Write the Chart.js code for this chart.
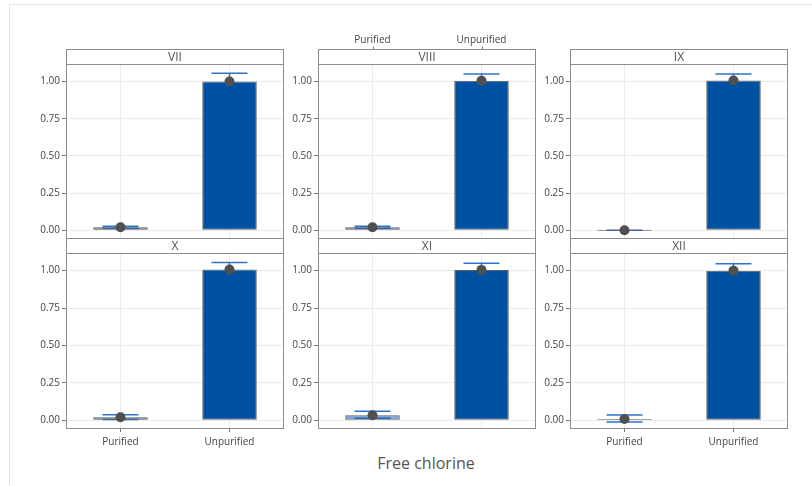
<!DOCTYPE html>
<html>
<head>
<meta charset="utf-8">
<script src="https://cdn.jsdelivr.net/npm/chart.js@4.4.0/dist/chart.umd.min.js"></script>
<style>
  html, body { margin: 0; padding: 0; background: #fff; }
  body { width: 812px; height: 486px; position: relative; overflow: hidden; font-family: "Open Sans", sans-serif; }
  .frame { position: absolute; left: 9px; top: 4px; width: 820px; height: 500px; border-top: 1px solid #e4e4e4; border-left: 1px solid #e4e4e4; }
  canvas { position: absolute; }
  #xtitle { position: absolute; left: 0; width: 852px; top: 452px; text-align: center; font-size: 16px; color: #555; }
</style>
</head>
<body>
<div class="frame"></div>
<div id="xtitle">Free chlorine</div>

<script>
  // Data
  const sites = ["VII", "VIII", "IX", "X", "XI", "XII"];
  const categories = ["Purified", "Unpurified"];
  const yTicks = [0, 0.25, 0.5, 0.75, 1];

  const purifiedMean = [0.02, 0.02, 0.0, 0.02, 0.033, 0.008];
  const purifiedLow = [0.013, 0.013, 0.0, 0.005, 0.013, -0.012];
  const purifiedHigh = [0.026, 0.026, 0.0, 0.036, 0.06, 0.034];

  const unpurifiedMean = [1.0, 1.005, 1.007, 1.007, 1.005, 1.0];
  const unpurifiedLow = [0.944, 0.96, 0.964, 0.96, 0.96, 0.954];
  const unpurifiedHigh = [1.056, 1.05, 1.05, 1.054, 1.05, 1.046];

  // Layout
  const colLeft = [66, 318, 570];
  const PLOT_W = 218;
  const AXIS_W = 56;
  const STRIP_H = 15;
  const Y_MIN = -0.059;
  const Y_MAX = 1.118;
  const FONT = "'Open Sans', sans-serif";

  const panelDeco = {
    id: "panelDeco",
    // error bars go under the bars, like the original
    beforeDatasetDraw(chart, args, opts) {
      if (args.index !== 0) return;
      const ctx = chart.ctx;
      const x = chart.scales.x;
      const y = chart.scales.y;
      const capHalf = (x.getPixelForValue(1) - x.getPixelForValue(0)) * 0.165;
      ctx.save();
      ctx.strokeStyle = "#2f72cc";
      ctx.lineWidth = 1.5;
      opts.low.forEach((lo, j) => {
        const px = x.getPixelForValue(j);
        const yl = y.getPixelForValue(lo);
        const yh = y.getPixelForValue(opts.high[j]);
        ctx.beginPath();
        ctx.moveTo(px, yl);
        ctx.lineTo(px, yh);
        ctx.moveTo(px - capHalf, yh);
        ctx.lineTo(px + capHalf, yh);
        ctx.moveTo(px - capHalf, yl);
        ctx.lineTo(px + capHalf, yl);
        ctx.stroke();
      });
      ctx.restore();
    },
    afterDraw(chart, args, opts) {
      const { ctx, chartArea: a } = chart;
      const l = Math.round(a.left) + 0.5;
      const r = Math.round(a.right) - 0.5;
      const t = Math.round(a.top) + 0.5;
      const b = Math.round(a.bottom) - 0.5;
      ctx.save();
      ctx.strokeStyle = "#8c8c8c";
      ctx.lineWidth = 1;
      ctx.strokeRect(l, t, r - l, b - t);
      // strip
      ctx.fillStyle = "#fff";
      ctx.fillRect(l, t - STRIP_H, r - l, STRIP_H);
      ctx.strokeRect(l, t - STRIP_H, r - l, STRIP_H);
      ctx.fillStyle = "#555";
      ctx.font = "12px " + FONT;
      ctx.textAlign = "center";
      ctx.textBaseline = "middle";
      ctx.fillText(opts.site, (l + r) / 2, t - STRIP_H / 2 + 1);
      if (opts.topTicks) {
        ctx.strokeStyle = "#777";
        categories.forEach((c, j) => {
          const px = Math.round(chart.scales.x.getPixelForValue(j)) + 0.5;
          ctx.beginPath();
          ctx.moveTo(px, t - STRIP_H - 3);
          ctx.lineTo(px, t - STRIP_H);
          ctx.stroke();
        });
      }
      ctx.restore();
    },
  };

  sites.forEach((site, i) => {
    const row = Math.floor(i / 3);
    const col = i % 3;
    const topRow = row === 0;
    const showX = topRow ? col === 1 : col !== 1;

    const canvas = document.createElement("canvas");
    const w = AXIS_W + PLOT_W + 2;
    const h = topRow ? 206 : 217;
    canvas.width = w;
    canvas.height = h;
    canvas.style.left = colLeft[col] - AXIS_W + "px";
    canvas.style.top = (topRow ? 34 : 237) + "px";
    canvas.style.width = w + "px";
    canvas.style.height = h + "px";
    document.body.appendChild(canvas);

    new Chart(canvas.getContext("2d"), {
      type: "bar",
      data: {
        labels: categories,
        datasets: [
          {
            type: "bar",
            data: [purifiedMean[i], unpurifiedMean[i]],
            backgroundColor: ["rgba(20, 95, 190, 0.55)", "#0051a2"],
            borderColor: "#5c5c5c",
            borderWidth: 1,
            borderSkipped: false,
            barPercentage: 0.5,
            categoryPercentage: 1,
            minBarLength: 1,
            order: 2,
          },
          {
            type: "line",
            data: [purifiedMean[i], unpurifiedMean[i]],
            showLine: false,
            pointRadius: 5,
            pointBackgroundColor: "#505050",
            pointBorderWidth: 0,
            order: 1,
          },
        ],
      },
      options: {
        responsive: false,
        animation: false,
        devicePixelRatio: 1,
        layout: {
          autoPadding: false,
          padding: topRow
            ? { top: 0, bottom: 1, left: 0, right: 2 }
            : { top: STRIP_H + 1, bottom: 0, left: 0, right: 2 },
        },
        plugins: {
          legend: { display: false },
          tooltip: { enabled: false },
          panelDeco: {
            site: site,
            topTicks: topRow && showX,
            low: [purifiedLow[i], unpurifiedLow[i]],
            high: [purifiedHigh[i], unpurifiedHigh[i]],
          },
        },
        scales: {
          x: {
            position: topRow ? "top" : "bottom",
            offset: true,
            afterFit: (axis) => {
              axis.height = topRow ? 30 : 25;
              axis.paddingLeft = 0;
              axis.paddingRight = 0;
            },
            ticks: {
              display: showX,
              padding: topRow ? 18 : 4,
              color: "#444",
              font: { size: 10, family: FONT },
            },
            grid: {
              offset: false,
              color: "#ebebeb",
              drawTicks: !topRow && showX,
              tickLength: 3,
              tickColor: "#777",
            },
            border: { display: false },
          },
          y: {
            min: Y_MIN,
            max: Y_MAX,
            afterBuildTicks: (axis) => { axis.ticks = yTicks.map((v) => ({ value: v })); },
            afterFit: (axis) => {
              axis.width = AXIS_W;
              axis.paddingTop = 0;
              axis.paddingBottom = 0;
            },
            ticks: {
              callback: (v) => Number(v).toFixed(2),
              padding: 2,
              color: "#444",
              font: { size: 10, family: FONT },
            },
            grid: { color: "#ebebeb", tickLength: 4, tickColor: "#777" },
            border: { display: false },
          },
        },
      },
      plugins: [panelDeco],
    });
  });
</script>
</body>
</html>
